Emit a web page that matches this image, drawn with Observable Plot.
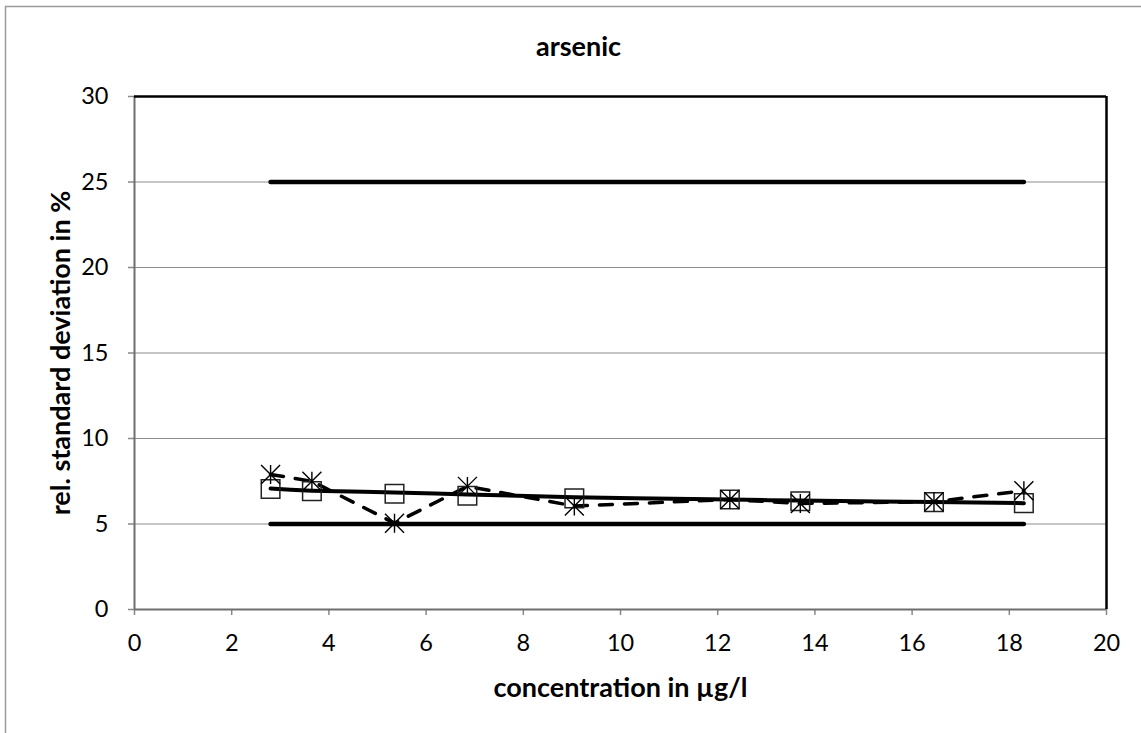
<!DOCTYPE html>
<html><head><meta charset="utf-8">
<script src="https://cdn.jsdelivr.net/npm/d3@7"></script>
<script src="https://cdn.jsdelivr.net/npm/@observablehq/plot@0.6"></script>
<style>
body{margin:0;background:#fff}
svg{display:block}
</style>
</head><body><div id="chart"></div>
<script>
// ---- data ----
const concentrations = [2.8, 3.65, 5.35, 6.85, 9.05, 12.25, 13.7, 16.45, 18.3];
const rsdSquares = [7.05, 6.92, 6.77, 6.65, 6.5, 6.43, 6.33, 6.28, 6.22];
const rsdStars   = [7.9, 7.5, 5.05, 7.2, 6.05, 6.43, 6.2, 6.3, 6.95];
const rsdFit     = [7.07, 6.95, 6.84, 6.72, 6.57, 6.43, 6.37, 6.28, 6.22];
const limitUpper = 25;
const limitLower = 5;
const xTicks = [0, 2, 4, 6, 8, 10, 12, 14, 16, 18, 20];
const yTicks = [0, 5, 10, 15, 20, 25, 30];
const gridY = [5, 10, 15, 20, 25];
const titleText = "arsenic";
const xLabel = "concentration in µg/l";
const yLabel = "rel. standard deviation in %";

const squares = concentrations.map((c, i) => ({x: c, y: rsdSquares[i]}));
const stars = concentrations.map((c, i) => ({x: c, y: rsdStars[i]}));
const fit = concentrations.map((c, i) => ({x: c, y: rsdFit[i]}));
const xMin = concentrations[0], xMax = concentrations[concentrations.length - 1];
const limits = [
  {x: xMin, y: limitUpper, k: "u"}, {x: xMax, y: limitUpper, k: "u"},
  {x: xMin, y: limitLower, k: "l"}, {x: xMax, y: limitLower, k: "l"}
];

const squareSym = {draw(ctx, size) { const s = Math.sqrt(size / Math.PI); ctx.rect(-s, -s, 2 * s, 2 * s); }};
const starSym = {draw(ctx, size) {
  const s = Math.sqrt(size / Math.PI);
  ctx.moveTo(-s, -s); ctx.lineTo(s, s);
  ctx.moveTo(s, -s); ctx.lineTo(-s, s);
  ctx.moveTo(0, -s); ctx.lineTo(0, s);
}};

const W = 1141, H = 733;
const mL = 134, mR = 35, mT = 96, mB = 124;
const font = "Lato, 'Open Sans', sans-serif";

const chart = Plot.plot({
  width: W, height: H,
  marginLeft: mL, marginRight: mR, marginTop: mT, marginBottom: mB,
  style: {fontFamily: font, fontSize: "23px", color: "#000", background: "#fff"},
  x: {domain: [0, 20], ticks: xTicks},
  y: {domain: [0, 30], ticks: yTicks},
  marks: [
    Plot.ruleY(gridY, {stroke: "#8c8c8c", strokeWidth: 1}),
    Plot.axisX({ticks: xTicks, tickSize: 6, tickPadding: 19, stroke: "#888", strokeWidth: 1.5, label: null, fill: "#000", fontSize: 23.5}),
    Plot.axisY({ticks: yTicks, tickSize: 6, tickPadding: 20, stroke: "#888", strokeWidth: 1.5, label: null, fill: "#000", fontSize: 23.5}),
    Plot.ruleX([0], {stroke: "#6e6e6e", strokeWidth: 2}),
    Plot.ruleY([0], {stroke: "#6e6e6e", strokeWidth: 2}),
    Plot.ruleX([20], {stroke: "#000", strokeWidth: 2.5}),
    Plot.ruleY([30], {stroke: "#000", strokeWidth: 2.5}),
    Plot.line(limits, {x: "x", y: "y", z: "k", stroke: "#000", strokeWidth: 4.5, strokeLinecap: "round"}),
    Plot.line(stars, {x: "x", y: "y", stroke: "#000", strokeWidth: 3.5, strokeDasharray: "13,12", strokeLinecap: "round"}),
    Plot.line(fit, {x: "x", y: "y", stroke: "#000", strokeWidth: 4, strokeLinecap: "round", curve: "natural"}),
    Plot.dot(squares, {x: "x", y: "y", symbol: squareSym, r: 9.3, fill: "none", stroke: "#222", strokeWidth: 1.5}),
    Plot.dot(stars, {x: "x", y: "y", symbol: starSym, r: 9.5, fill: "none", stroke: "#000", strokeWidth: 1.4}),
    Plot.text([titleText], {frameAnchor: "top", lineAnchor: "middle", dx: -42, dy: -49, fontWeight: "bold", fontSize: 27, fill: "#000"}),
    Plot.text([xLabel], {frameAnchor: "bottom", lineAnchor: "middle", dy: 79, fontWeight: "bold", fontSize: 27, fill: "#000"}),
    Plot.text([yLabel], {frameAnchor: "left", dx: -73, rotate: -90, textAnchor: "middle", lineAnchor: "middle", fontWeight: "bold", fontSize: 27, fill: "#000"})
  ]
});

const svg = d3.select(chart);
svg.insert("rect", ":first-child")
  .attr("x", 5.5).attr("y", 6.5).attr("width", W + 20).attr("height", H + 20)
  .attr("fill", "#fff").attr("stroke", "#9a9a9a").attr("stroke-width", 1.5);
document.getElementById("chart").appendChild(chart);
</script>
</body></html>
